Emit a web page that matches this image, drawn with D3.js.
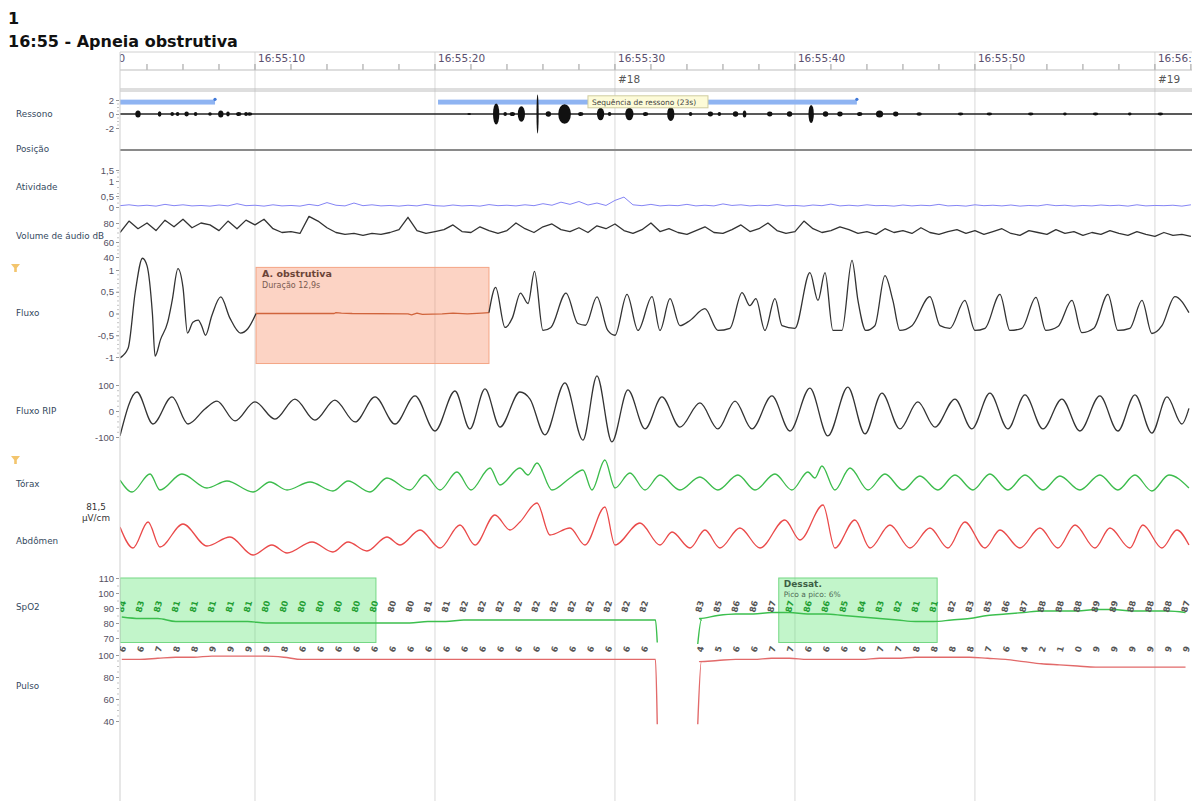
<!DOCTYPE html>
<html>
<head>
<meta charset="utf-8">
<script src="https://cdn.jsdelivr.net/npm/d3@7"></script>
<style>
  body { margin: 0; background: #fff; }
  svg { display: block; font-family: "DejaVu Sans", sans-serif; }
  .chan { font-size: 8.8px; fill: #34495e; }
  .ax text { font-size: 9.5px; fill: #55505f; }
  .ax line { stroke: #999; }
  .minor line { stroke: #c4c4c4; }
</style>
</head>
<body>
<svg id="chart" width="1192" height="801"></svg>
<script>
// seconds after 16:55:00
const timeTicksMajor = 10, timeTicksMinor = 2;
const epochs = [[30, '#18'], [60, '#19']];

const channelLabels = [
  ['Ressono', 114], ['Posição', 149], ['Atividade', 187], ['Volume de áudio dB', 236],
  ['Fluxo', 313], ['Fluxo RIP', 411], ['Tórax', 484], ['Abdômen', 541], ['SpO2', 607], ['Pulso', 686]
];

const ressonoTicks = [-2, 0, 2];
const atividadeTicks = [0, 0.5, 1, 1.5];
const volumeTicks = [40, 60, 80];
const fluxoTicks = [-1, -0.5, 0, 0.5, 1];
const ripTicks = [-100, 0, 100];
const spo2Ticks = [70, 80, 90, 100, 110];
const pulsoTicks = [40, 60, 80, 100];

// snoring: sequence bars [start, end] and bursts [t, amplitude, duration]
const snoreSeq = [[2.5, 7.78], [20.17, 43.44]];
const snoreBursts = [
  [3.5, 0.5, 0.3], [4.7, 0.4, 0.2], [5.4, 0.3, 0.2], [5.7, 0.3, 0.2], [6.2, 0.35, 0.25], [6.7, 0.3, 0.2],
  [7.5, 0.25, 0.2], [8.1, 0.5, 0.3], [8.5, 0.35, 0.2], [9.1, 0.3, 0.3], [9.5, 0.3, 0.2], [9.7, 0.25, 0.3],
  [21.9, 0.15, 0.2], [23.4, 1.5, 0.35], [23.9, 0.3, 0.2], [24.3, 0.3, 0.3], [24.8, 1.1, 0.4], [25.7, 2.8, 0.12],
  [26.3, 0.4, 0.3], [27.2, 1.4, 0.7], [28.1, 0.3, 0.3], [29.2, 0.9, 0.4], [29.7, 0.3, 0.2], [30.8, 0.9, 0.45],
  [31.7, 0.3, 0.3], [33.1, 1.0, 0.4], [34.2, 0.3, 0.2], [35.3, 0.35, 0.3], [35.8, 0.3, 0.2], [36.7, 0.4, 0.3],
  [37.2, 0.5, 0.2], [38.6, 0.35, 0.3], [39.7, 0.4, 0.3], [40.9, 1.3, 0.3], [41.7, 0.4, 0.3], [42.5, 0.35, 0.3],
  [43.6, 0.3, 0.3], [44.7, 0.5, 0.4], [45.6, 0.35, 0.3], [46.9, 0.25, 0.3], [49.2, 0.2, 0.3], [50.8, 0.2, 0.3],
  [53.1, 0.2, 0.3], [55.0, 0.2, 0.2], [56.7, 0.2, 0.3], [58.6, 0.2, 0.2], [60.3, 0.2, 0.3]
];

// regularly sampled every 0.5 s from 2.5 s
const sampleStart = 2.5, sampleStep = 0.5;
const atividade = [
  0.06,0.1,0.05,0.08,0.04,0.12,0.06,0.1,0.05,0.07, 0.04,0.09,0.05,0.15,0.06,0.08,0.04,0.1,0.05,0.07,
  0.04,0.12,0.06,0.2,0.08,0.05,0.18,0.06,0.1,0.05, 0.07,0.04,0.08,0.05,0.12,0.06,0.04,0.09,0.05,0.07,
  0.04,0.11,0.06,0.08,0.05,0.1,0.06,0.15,0.08,0.22, 0.12,0.25,0.09,0.18,0.07,0.3,0.45,0.1,0.06,0.12,
  0.05,0.08,0.06,0.12,0.05,0.08,0.05,0.14,0.07,0.1, 0.05,0.08,0.06,0.11,0.05,0.07,0.04,0.09,0.06,0.13,
  0.05,0.08,0.05,0.1,0.06,0.07,0.04,0.09,0.05,0.08, 0.06,0.12,0.05,0.07,0.04,0.1,0.06,0.08,0.05,0.09,
  0.04,0.07,0.05,0.11,0.06,0.08,0.04,0.07,0.05,0.09, 0.06,0.08,0.04,0.1,0.05,0.07,0.06,0.08,0.04,0.1
];
const volume = [
  70,82,74,80,72,83,76,84,75,80, 78,72,82,74,83,78,84,74,70,71, 69,87,82,75,70,68,69,67,69,68,
  70,73,86,72,69,71,73,78,71,70, 76,72,69,72,80,74,70,76,79,73, 71,75,70,77,74,79,72,69,73,80,
  71,74,70,68,72,76,70,69,73,78, 71,74,80,72,69,71,82,74,70,72, 76,73,69,71,68,74,70,72,69,75,
  70,68,71,73,69,72,68,71,74,69, 67,72,70,68,73,69,71,67,70,68, 72,69,67,71,68,66,70,67,68,66
];

// [t, value]
const fluxoBefore = [
  [2.5,-1.02],[2.95,-0.8],[3.35,0.5],[3.75,1.27],[4.0,1.1],[4.3,0.0],[4.45,-0.98],[4.75,-0.6],[5.15,-0.2],
  [5.4,0.3],[5.72,1.03],[6.0,0.6],[6.25,-0.45],[6.55,-0.2],[6.85,-0.15],[7.05,-0.3],[7.25,-0.5],[7.6,-0.05],
  [8.1,0.38],[8.6,-0.1],[9.2,-0.45],[9.6,-0.35],[10.06,0.0]
];
const fluxoApnea = [
  [10.06,0],[14.4,0],[14.5,0.02],[14.8,0.01],[15.4,0],[18.5,-0.01],[18.7,-0.03],[19.0,0.01],
  [19.3,-0.02],[20.4,-0.01],[21.0,0.01],[21.8,-0.01],[22.6,0.01],[23.0,0.02]
];
const fluxoAfter = [
  [23.0,0.02],[23.37,0.6],[23.89,-0.32],[24.3,-0.1],[24.75,0.47],[25.17,0.23],[25.53,0.97],[26.0,-0.39],
  [26.44,-0.32],[27.28,0.47],[27.94,-0.23],[28.36,-0.27],[29.0,0.38],[29.6,-0.39],[30.0,-0.5],[30.67,0.44],
  [31.28,-0.39],[32.06,0.39],[32.5,-0.39],[33.06,0.34],[33.61,-0.28],[34.17,-0.16],[35.0,0.11],[35.72,-0.39],
  [36.39,-0.34],[37.06,0.48],[37.5,0.18],[37.83,0.34],[38.33,-0.39],[38.89,0.34],[39.28,-0.28],[40.0,-0.34],
  [40.83,0.94],[41.28,0.3],[41.67,0.94],[42.11,-0.39],[42.61,-0.39],[43.17,1.22],[43.5,0.3],[43.94,-0.39],
  [44.44,-0.28],[45.0,0.87],[45.44,0.3],[45.83,-0.39],[46.5,-0.28],[47.5,0.39],[48.06,-0.28],[48.61,-0.34],
  [49.44,0.3],[50.0,-0.39],[50.56,-0.34],[51.39,0.44],[51.94,-0.39],[52.61,-0.34],[53.39,0.37],[53.94,-0.39],
  [54.61,-0.3],[55.39,0.3],[55.94,-0.44],[56.61,-0.34],[57.39,0.44],[57.94,-0.39],[58.61,-0.34],[59.28,0.3],
  [59.83,-0.46],[60.39,-0.28],[61.11,0.39],[61.89,0.02]
];
const fluxoRip = [
  [2.5,-96],[3.44,73],[4.33,-50],[5.39,54],[6.28,-50],[7.22,8],[7.89,38],[8.89,-38],[10.0,35],[11.11,-31],
  [12.22,46],[13.33,-35],[14.44,42],[15.56,-42],[16.67,54],[17.78,-50],[18.89,58],[20.0,-77],[21.11,77],
  [21.94,-69],[22.78,85],[23.61,-62],[24.72,73],[25.28,46],[26.11,-92],[27.22,108],[28.22,-112],[29.0,135],
  [29.83,-119],[30.72,81],[31.67,-69],[32.61,54],[33.61,-62],[34.72,31],[35.72,-69],[36.67,38],[37.61,-69],
  [38.72,58],[39.72,-77],[40.83,88],[41.83,-96],[42.94,92],[43.89,-88],[44.83,69],[45.83,-69],[46.83,35],
  [47.78,-62],[48.89,46],[49.83,-69],[50.83,69],[51.83,-69],[52.78,62],[53.78,-69],[54.83,46],[55.83,-77],
  [56.94,58],[57.94,-77],[58.89,62],[59.83,-85],[60.67,54],[61.5,-50],[61.89,10]
];
const torax = [
  [2.5,-0.25],[3.17,-0.85],[4.17,0.05],[4.72,-0.75],[5.94,0.05],[7.33,-0.65],[8.44,-0.3],[9.89,-0.85],
  [10.83,-0.35],[11.78,-0.75],[13.06,-0.35],[14.33,-0.8],[15.17,-0.3],[16.39,-0.85],[17.33,-0.15],
  [18.61,-0.75],[19.44,0],[20.28,-0.75],[21.22,0.15],[22.0,-0.75],[23.06,0.35],[23.61,-0.5],[24.72,0.35],
  [25.17,0],[25.67,0.6],[26.5,-0.75],[27.5,-0.15],[28.22,0.25],[28.72,-0.75],[29.44,0.75],[30.0,-0.65],
  [30.83,0.1],[31.67,-0.75],[32.5,0],[33.61,-0.75],[34.72,-0.1],[35.72,-0.75],[36.83,0],[37.78,-0.75],
  [38.89,0.05],[39.83,-0.75],[40.72,0.15],[41.11,-0.15],[41.5,0.45],[42.22,-0.75],[43.06,0.35],[44.06,-0.75],
  [45.0,0.05],[46.0,-0.75],[46.94,-0.05],[47.94,-0.75],[48.89,0],[49.89,-0.75],[50.83,0.05],[51.83,-0.75],
  [52.78,0],[53.78,-0.75],[54.72,-0.05],[55.83,-0.75],[56.94,0],[57.94,-0.75],[58.89,0],[59.83,-0.8],
  [60.78,0],[61.89,-0.65]
];
const abdomen = [
  [2.5,0.15],[3.22,-0.9],[4.06,0.4],[4.72,-0.85],[6.0,0.3],[7.33,-0.8],[8.61,-0.35],[9.89,-1.25],
  [10.94,-0.75],[11.78,-1.15],[13.17,-0.6],[14.33,-1.1],[15.17,-0.6],[16.22,-1.05],[17.33,-0.35],
  [18.06,-0.75],[19.17,0],[20.28,-0.9],[21.39,0.25],[22.22,-0.75],[23.33,0.75],[24.17,0],[24.72,0.4],
  [25.67,1.35],[26.39,-0.25],[27.5,0.1],[28.33,-0.75],[29.44,1.15],[30.0,-0.75],[31.39,0.35],[32.5,-0.75],
  [33.17,-0.1],[34.17,-0.9],[35.0,0],[35.83,-0.9],[36.94,0.1],[38.06,-0.9],[39.44,0.5],[40.28,-0.5],
  [41.56,1.25],[42.22,-0.9],[43.33,0.5],[44.17,-0.9],[45.28,0.25],[46.39,-0.9],[47.5,0.1],[48.5,-0.9],
  [49.44,0.4],[50.56,-0.9],[51.39,0],[52.5,-0.9],[53.61,0.1],[54.61,-0.9],[55.56,0.25],[56.67,-0.9],
  [57.5,0.1],[58.61,-0.9],[59.33,0.25],[60.39,-0.9],[61.22,0],[61.89,-0.75]
];

// SpO2 / pulse: one value per second, two segments around the signal loss
const oxiStart = [2.6, 34.7];
const spo2Left = [84,83,83,81,81,81,81,81,80,80,80,80,80,80,80,80,80,81,81,82,82,82,82,82,82,82,82,82,82,82];
const spo2Right = [83,85,86,86,87,87,86,86,85,84,83,82,81,81,82,83,85,86,87,88,88,88,89,89,88,88,88,87];
const spo2Loss = [[32.25, 82], [32.35, 67], [34.6, 66], [34.8, 82]];
const pulsoLeft = [96,96,97,98,98,99,99,99,99,98,96,96,96,96,96,96,96,96,96,96,96,96,96,96,96,96,96,96,96,96];
const pulsoRight = [94,95,96,96,97,97,96,96,96,96,97,97,98,98,98,98,97,96,94,92,91,90,89,89,89,89,89,89];
const pulsoLoss = [[32.25, 96], [32.35, 37], [34.6, 37], [34.8, 94]];

const apnea = { start: 10.06, end: 23.0, top: 1.06, bottom: -1.15, title: 'A. obstrutiva', sub: 'Duração 12,9s' };
const desats = [
  { start: 2.5, end: 16.72, top: 110, bottom: 67 },
  { start: 39.1, end: 47.9, top: 110, bottom: 67, title: 'Dessat.', sub: 'Pico a pico: 6%' }
];

const svg = d3.select('#chart');
const base = new Date(2024, 0, 1, 16, 55, 0).getTime();
const T = s => new Date(base + s * 1000);
const x = d3.scaleTime().domain([T(2.5), T(62.06)]).range([120, 1192]);
const X = s => x(T(s));

const ressonoY = d3.scaleLinear().domain([-2, 2]).range([128, 100]);
const atividadeY = d3.scaleLinear().domain([0, 0.5, 1, 1.5]).range([207, 196, 181, 170]);
const volumeY = d3.scaleLinear().domain([40, 60, 80]).range([257, 242, 223]);
const fluxoY = d3.scaleLinear().domain([-1, 1]).range([357, 270]);
const ripY = d3.scaleLinear().domain([-100, 100]).range([437, 385]);
const toraxY = d3.scaleLinear().domain([-1, 1]).range([495, 455]);
const abdY = d3.scaleLinear().domain([-1, 1]).range([550, 510]);
const spo2Y = d3.scaleLinear().domain([70, 110]).range([638, 578]);
const pulsoY = d3.scaleLinear().domain([40, 100]).range([721, 655]);

svg.append('clipPath').attr('id', 'plot').append('rect')
  .attr('x', 120).attr('y', 40).attr('width', 1072).attr('height', 770);

// title
svg.append('text').attr('x', 8).attr('y', 24).text('1')
  .style('font-size', '16px').style('font-weight', 'bold').style('fill', '#111');
svg.append('text').attr('x', 8).attr('y', 47).text('16:55 - Apneia obstrutiva')
  .style('font-size', '16px').style('font-weight', 'bold').style('fill', '#111');

// grid + header
const majors = d3.timeSecond.every(timeTicksMajor).range(T(0), T(63));
const minors = d3.timeSecond.every(timeTicksMinor).range(T(0), T(63));
const plot = svg.append('g').attr('clip-path', 'url(#plot)');

plot.selectAll('.grid').data(majors).enter().append('line')
  .attr('x1', d => x(d)).attr('x2', d => x(d)).attr('y1', 52).attr('y2', 801)
  .attr('stroke', '#d9d9d9');

[52, 70, 89, 91].forEach(y => {
  svg.append('line').attr('x1', 120).attr('x2', 1192).attr('y1', y).attr('y2', y)
    .attr('stroke', y === 52 ? '#d0d0d0' : '#bdbdbd');
});
plot.selectAll('.minor-t').data(minors).enter().append('line')
  .attr('x1', d => x(d)).attr('x2', d => x(d)).attr('y1', 64).attr('y2', 70)
  .attr('stroke', '#999');
plot.selectAll('.tlabel').data(majors).enter().append('text')
  .attr('x', d => x(d) + 3).attr('y', 62)
  .text(d3.timeFormat('%H:%M:%S'))
  .style('font-size', '10.5px').style('fill', '#5a4f6e');
plot.selectAll('.epoch').data(epochs).enter().append('text')
  .attr('x', d => X(d[0]) + 3).attr('y', 83).text(d => d[1])
  .style('font-size', '10.5px').style('fill', '#555');

svg.append('line').attr('x1', 120).attr('x2', 120).attr('y1', 52).attr('y2', 801).attr('stroke', '#cfcfcf');

// channel labels
svg.selectAll('.chan').data(channelLabels).enter().append('text')
  .attr('class', 'chan').attr('x', 16).attr('y', d => d[1] + 3).text(d => d[0]);
svg.append('text').attr('class', 'chan').attr('x', 96).attr('y', 510).attr('text-anchor', 'middle').text('81,5').style('fill', '#333');
svg.append('text').attr('class', 'chan').attr('x', 96).attr('y', 521).attr('text-anchor', 'middle').text('µV/cm').style('fill', '#333');
[268, 460].forEach(y => {
  svg.append('path').attr('d', `M11,${y - 4}L20,${y - 4}L16.8,${y}L16.8,${y + 4}L14.2,${y + 4}L14.2,${y}Z`)
    .attr('fill', '#f3c56d');
});

// left scales
const fmt = d => String(d).replace('.', ',');
function leftAxis(scale, ticks, minorCount) {
  const g = svg.append('g').attr('class', 'minor').attr('transform', 'translate(119,0)')
    .call(d3.axisLeft(scale).ticks(minorCount).tickSize(2).tickFormat(''));
  g.select('.domain').remove();
  const a = svg.append('g').attr('class', 'ax').attr('transform', 'translate(119,0)')
    .call(d3.axisLeft(scale).tickValues(ticks).tickSize(3).tickPadding(2).tickFormat(fmt));
  a.select('.domain').remove();
}
leftAxis(ressonoY, ressonoTicks, 8);
leftAxis(atividadeY, atividadeTicks, 8);
leftAxis(volumeY, volumeTicks, 8);
leftAxis(fluxoY, fluxoTicks, 20);
leftAxis(ripY, ripTicks, 10);
leftAxis(spo2Y, spo2Ticks, 8);
leftAxis(pulsoY, pulsoTicks, 12);

// annotation boxes (under the traces)
plot.append('rect')
  .attr('x', X(apnea.start)).attr('y', fluxoY(apnea.top))
  .attr('width', X(apnea.end) - X(apnea.start)).attr('height', fluxoY(apnea.bottom) - fluxoY(apnea.top))
  .attr('fill', 'rgba(248,140,100,0.38)').attr('stroke', '#f4a585');
plot.append('text').attr('x', X(apnea.start) + 6).attr('y', fluxoY(apnea.top) + 10).text(apnea.title)
  .style('font-size', '9.5px').style('font-weight', 'bold').style('fill', '#6b4438');
plot.append('text').attr('x', X(apnea.start) + 6).attr('y', fluxoY(apnea.top) + 21).text(apnea.sub)
  .style('font-size', '8px').style('fill', '#7a5a50');

plot.selectAll('.desat').data(desats).enter().append('rect')
  .attr('x', d => X(d.start)).attr('y', d => spo2Y(d.top))
  .attr('width', d => X(d.end) - X(d.start)).attr('height', d => spo2Y(d.bottom) - spo2Y(d.top))
  .attr('fill', 'rgba(95,230,115,0.38)').attr('stroke', '#74d884');
desats.filter(d => d.title).forEach(d => {
  plot.append('text').attr('x', X(d.start) + 5).attr('y', spo2Y(d.top) + 9).text(d.title)
    .style('font-size', '9px').style('font-weight', 'bold').style('fill', '#3d5f44');
  plot.append('text').attr('x', X(d.start) + 5).attr('y', spo2Y(d.top) + 19).text(d.sub)
    .style('font-size', '7.5px').style('fill', '#4f6a55');
});

// traces
function trace(data, yScale, color, curve, w) {
  plot.append('path').datum(data)
    .attr('d', d3.line().x(d => X(d[0])).y(d => yScale(d[1])).curve(curve))
    .attr('fill', 'none').attr('stroke', color).attr('stroke-width', w).attr('stroke-linejoin', 'round');
}
const sampled = arr => arr.map((v, i) => [sampleStart + i * sampleStep, v]);

// ressono
plot.selectAll('.seq').data(snoreSeq).enter().append('rect')
  .attr('x', d => X(d[0])).attr('y', ressonoY(2.05))
  .attr('width', d => X(d[1]) - X(d[0])).attr('height', ressonoY(1.35) - ressonoY(2.05))
  .attr('fill', '#8fb4f2');
plot.selectAll('.seqend').data(snoreSeq).enter().append('circle')
  .attr('cx', d => X(d[1])).attr('cy', ressonoY(2.1)).attr('r', 1.6).attr('fill', '#3f78d8');
trace([[2.5, 0], [62.06, 0]], ressonoY, '#222', d3.curveLinear, 1.4);
plot.selectAll('.burst').data(snoreBursts).enter().append('ellipse')
  .attr('cx', d => X(d[0])).attr('cy', ressonoY(0))
  .attr('rx', d => Math.max(1, (X(d[0] + d[2] / 2) - X(d[0] - d[2] / 2)) / 2))
  .attr('ry', d => ressonoY(0) - ressonoY(d[1]))
  .attr('fill', '#111');
const tipX = X(28.5), tipY = ressonoY(2.6);
plot.append('rect').attr('x', tipX).attr('y', tipY).attr('width', 120).attr('height', 12)
  .attr('fill', '#fdfbd8').attr('stroke', '#cfcca0');
plot.append('text').attr('x', tipX + 4).attr('y', tipY + 9).text('Sequência de ressono (23s)')
  .style('font-size', '7.5px').style('fill', '#444');

// posição
plot.append('line').attr('x1', X(2.5)).attr('x2', X(62.06)).attr('y1', 150).attr('y2', 150)
  .attr('stroke', '#8a8a8a').attr('stroke-width', 1.8);

trace(sampled(atividade), atividadeY, '#8585f5', d3.curveLinear, 1);
trace(sampled(volume), volumeY, '#333', d3.curveLinear, 1.3);
trace(fluxoBefore, fluxoY, '#333', d3.curveMonotoneX, 1.3);
trace(fluxoApnea, fluxoY, '#d0643c', d3.curveLinear, 1.3);
trace(fluxoAfter, fluxoY, '#333', d3.curveMonotoneX, 1.3);
trace(fluxoRip, ripY, '#333', d3.curveMonotoneX, 1.3);
trace(torax, toraxY, '#3cbc4c', d3.curveMonotoneX, 1.3);
trace(abdomen, abdY, '#ea4a4a', d3.curveMonotoneX, 1.3);

// oximetry
const seg = (arr, k) => arr.map((v, i) => [oxiStart[k] + i, v]);
trace(seg(spo2Left, 0).concat(spo2Loss.slice(0, 2)), spo2Y, '#3cbf4e', d3.curveMonotoneX, 1.4);
trace(spo2Loss.slice(2).concat(seg(spo2Right, 1)), spo2Y, '#3cbf4e', d3.curveMonotoneX, 1.4);
trace(seg(pulsoLeft, 0).concat(pulsoLoss.slice(0, 2)), pulsoY, '#e26a6a', d3.curveMonotoneX, 1.4);
trace(pulsoLoss.slice(2).concat(seg(pulsoRight, 1)), pulsoY, '#e26a6a', d3.curveMonotoneX, 1.4);

const inDesat = t => desats.some(d => t >= d.start && t <= d.end);
const spo2Labels = seg(spo2Left, 0).concat(seg(spo2Right, 1));
plot.selectAll('.spl').data(spo2Labels).enter().append('text')
  .attr('transform', d => `translate(${X(d[0])},${spo2Y(91)}) rotate(-75)`)
  .attr('text-anchor', 'middle').attr('dy', '0.35em').text(d => d[1])
  .style('font-size', '8.5px').style('font-weight', 'bold')
  .style('fill', d => inDesat(d[0]) ? '#1f9e33' : '#555');

// pulse values: only the top of each rotated number shows above the pulse track
svg.append('clipPath').attr('id', 'pband').append('rect')
  .attr('x', 120).attr('y', 643).attr('width', 1072).attr('height', 9);
const pulsoLabels = seg(pulsoLeft, 0).concat(seg(pulsoRight, 1));
svg.append('g').attr('clip-path', 'url(#pband)').selectAll('text').data(pulsoLabels).enter().append('text')
  .attr('transform', d => `translate(${X(d[0])},${pulsoY(100) - 3}) rotate(-75)`)
  .attr('text-anchor', 'middle').attr('dy', '0.35em').text(d => d[1])
  .style('font-size', '8.5px').style('font-weight', 'bold').style('fill', '#555');
</script>
</body>
</html>
